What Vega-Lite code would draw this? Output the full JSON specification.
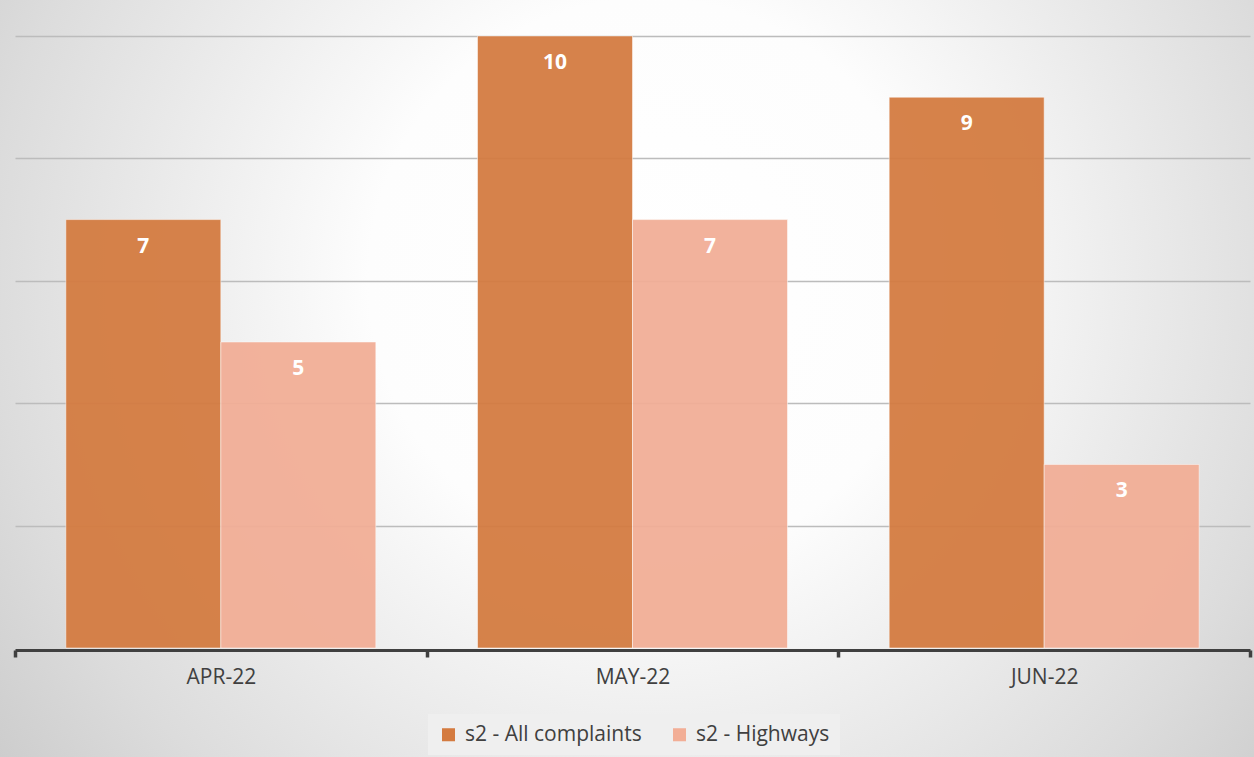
{
  "$schema": "https://vega.github.io/schema/vega-lite/v6.json",
  "width": 1254,
  "height": 757,
  "autosize": {"type": "none"},
  "padding": 0,
  "background": "#e2e2e2",
  "view": {
    "stroke": null,
    "fill": {
      "gradient": "radial",
      "x1": 0.518, "y1": 0.421, "r1": 0,
      "x2": 0.518, "y2": 0.421, "r2": 0.7,
      "stops": [
        {"offset": 0, "color": "#ffffff"},
        {"offset": 0.32, "color": "#fdfdfd"},
        {"offset": 0.54, "color": "#ececec"},
        {"offset": 0.75, "color": "#dcdcdc"},
        {"offset": 0.92, "color": "#cdcdcd"},
        {"offset": 1, "color": "#c8c8c8"}
      ]
    }
  },
  "config": {"font": "Open Sans"},
  "data": {
    "values": [
      {"month": "APR-22", "series": "s2 - All complaints", "value": 7},
      {"month": "APR-22", "series": "s2 - Highways", "value": 5},
      {"month": "MAY-22", "series": "s2 - All complaints", "value": 10},
      {"month": "MAY-22", "series": "s2 - Highways", "value": 7},
      {"month": "JUN-22", "series": "s2 - All complaints", "value": 9},
      {"month": "JUN-22", "series": "s2 - Highways", "value": 3}
    ]
  },
  "encoding": {
    "x": {
      "field": "month",
      "type": "nominal",
      "sort": ["APR-22", "MAY-22", "JUN-22"],
      "scale": {"range": [15, 1250], "paddingInner": 0, "paddingOuter": 0},
      "axis": {
        "title": null,
        "orient": "bottom",
        "offset": -107,
        "labelAngle": 0,
        "labelFontSize": 21,
        "labelColor": "#404040",
        "labelPadding": 9,
        "domainColor": "#404040",
        "domainWidth": 3,
        "tickColor": "#404040",
        "tickWidth": 3.5,
        "tickSize": 7,
        "tickBand": "extent",
        "grid": false
      }
    },
    "xOffset": {
      "field": "series",
      "type": "nominal",
      "sort": ["s2 - All complaints", "s2 - Highways"],
      "scale": {"paddingInner": 0, "paddingOuter": 0.328}
    },
    "y": {
      "field": "value",
      "type": "quantitative",
      "scale": {"domain": [-1.781, 10.588], "nice": false, "zero": false},
      "axis": {
        "title": null,
        "domain": false,
        "ticks": false,
        "labels": false,
        "grid": true,
        "values": [2, 4, 6, 8, 10],
        "gridColor": "#bcbcbc",
        "gridWidth": 1.5
      }
    }
  },
  "layer": [
    {
      "mark": {"type": "bar", "opacity": 0.94, "stroke": "#ffffff", "strokeWidth": 1, "strokeOpacity": 0.5},
      "encoding": {
        "y2": {"datum": 0},
        "color": {
          "field": "series",
          "type": "nominal",
          "sort": ["s2 - All complaints", "s2 - Highways"],
          "scale": {"domain": ["s2 - All complaints", "s2 - Highways"], "range": ["#d47b40", "#f2ae96"]},
          "legend": {
            "orient": "none",
            "legendX": 428,
            "legendY": 714,
            "direction": "horizontal",
            "title": null,
            "labelFontSize": 21,
            "labelColor": "#404040",
            "symbolType": "square",
            "symbolSize": 170,
            "symbolStrokeWidth": 0,
            "symbolOpacity": 1,
            "columnPadding": 27,
            "labelOffset": 6,
            "padding": 10,
            "fillColor": "#efefef",
            "labelLimit": 400
          }
        }
      }
    },
    {
      "mark": {"type": "text", "baseline": "middle", "dy": 27, "fill": "#ffffff", "fontWeight": "bold", "fontSize": 21},
      "encoding": {"text": {"field": "value", "type": "quantitative"}}
    }
  ]
}
